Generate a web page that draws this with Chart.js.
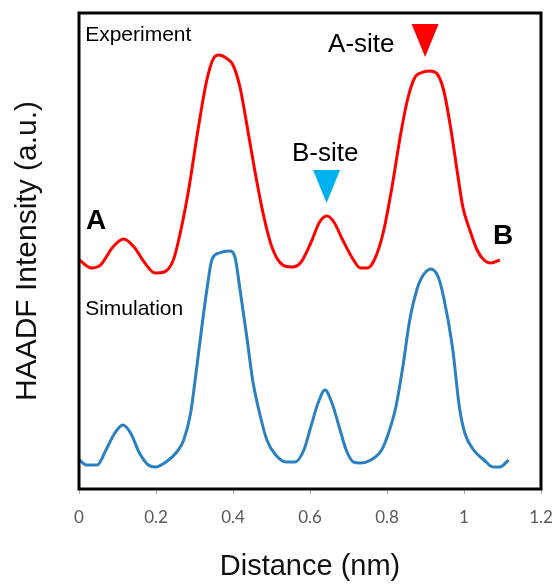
<!DOCTYPE html>
<html>
<head>
<meta charset="utf-8">
<script src="https://cdn.jsdelivr.net/npm/chart.js@4"></script>
<style>
  html, body { margin: 0; padding: 0; background: #fff; }
  #wrap { width: 556px; height: 584px; }
</style>
</head>
<body>
<div id="wrap"><canvas id="profile" width="556" height="584"></canvas></div>
<script>
// distance (nm) / intensity (a.u.)
const expX = [0.001, 0.033, 0.056, 0.088, 0.116, 0.143, 0.171, 0.198, 0.221, 0.245,
  0.263, 0.286, 0.309, 0.332, 0.350, 0.364, 0.382, 0.400, 0.418, 0.437,
  0.455, 0.478, 0.501, 0.529, 0.552, 0.575, 0.602, 0.625, 0.644, 0.662,
  0.685, 0.713, 0.731, 0.749, 0.767, 0.790, 0.813, 0.836, 0.855, 0.873,
  0.887, 0.910, 0.928, 0.947, 0.965, 0.983, 0.997, 1.015, 1.034, 1.052,
  1.070, 1.093];
const expY = [229, 221, 224, 242, 250, 242, 226, 216, 217, 229,
  256, 302, 359, 409, 431, 434, 431, 424, 402, 362,
  322, 276, 242, 224, 222, 226, 246, 267, 273, 267,
  249, 229, 221, 221, 229, 256, 302, 356, 392, 412,
  416, 418, 416, 399, 362, 316, 282, 259, 239, 229,
  226, 229];

const simX = [0.001, 0.020, 0.047, 0.070, 0.093, 0.114, 0.134, 0.157, 0.180, 0.199,
  0.226, 0.254, 0.272, 0.290, 0.304, 0.318, 0.332, 0.345, 0.364, 0.391,
  0.405, 0.418, 0.437, 0.451, 0.469, 0.488, 0.511, 0.538, 0.561, 0.584,
  0.602, 0.621, 0.639, 0.657, 0.676, 0.694, 0.713, 0.731, 0.758, 0.786,
  0.804, 0.823, 0.841, 0.859, 0.878, 0.891, 0.914, 0.933, 0.947, 0.970,
  0.988, 1.002, 1.025, 1.052, 1.075, 1.093, 1.116];
const simY = [29, 24, 24, 39, 56, 64, 56, 36, 24, 22,
  27, 37, 49, 76, 116, 159, 199, 229, 236, 238,
  232, 200, 149, 109, 76, 49, 34, 27, 27, 39,
  62, 86, 99, 86, 62, 39, 27, 26, 29, 39,
  56, 82, 122, 169, 200, 212, 220, 212, 192, 142,
  82, 56, 39, 29, 22, 22, 29];

const xTicks = [0, 0.2, 0.4, 0.6, 0.8, 1, 1.2];

// text labels placed in data coordinates (x nm, y = cap centre)
const noteText = ["Experiment", "Simulation", "A", "B", "A-site", "B-site"];
const noteX = [0.016, 0.016, 0.018, 1.075, 0.647, 0.553];
const noteY = [456, 182, 270, 255, 446, 337];

// site markers (downward triangles): centre x, top y, tip y
const markX = [0.899, 0.643];
const markTop = [465, 319];
const markTip = [432, 286];

const toPts = (xs, ys) => xs.map((x, i) => ({ x: x, y: ys[i] }));

/* frame round the plot area */
const frameBox = {
  id: "frameBox",
  afterDatasetsDraw(chart) {
    const { ctx, chartArea: a } = chart;
    ctx.save();
    ctx.strokeStyle = "#000";
    ctx.lineWidth = 3;
    ctx.strokeRect(a.left, a.top, a.right - a.left, a.bottom - a.top);
    ctx.restore();
  }
};

/* labels and site triangles */
const notes = {
  id: "notes",
  afterDraw(chart) {
    const { ctx } = chart;
    const xs = chart.scales.x, ys = chart.scales.y;
    const fonts = ["21px", "21px", "bold 28px", "bold 28px", "26px", "26px"];
    const sizes = [21, 21, 28, 28, 26, 26];
    ctx.save();
    ctx.fillStyle = "#000";
    ctx.textAlign = "left";
    ctx.textBaseline = "alphabetic";
    noteText.forEach((t, i) => {
      ctx.font = fonts[i] + ' "Liberation Sans", Arial, sans-serif';
      const px = xs.getPixelForValue(noteX[i]);
      const py = ys.getPixelForValue(noteY[i]) + sizes[i] * 0.358;
      ctx.fillText(t, px, py);
    });
    const colors = ["#ff0000", "#00b0f0"];
    markX.forEach((m, i) => {
      const cx = xs.getPixelForValue(m);
      const top = ys.getPixelForValue(markTop[i]);
      const tip = ys.getPixelForValue(markTip[i]);
      ctx.fillStyle = colors[i];
      ctx.beginPath();
      ctx.moveTo(cx - 13.5, top);
      ctx.lineTo(cx + 13.5, top);
      ctx.lineTo(cx, tip);
      ctx.closePath();
      ctx.fill();
    });
    ctx.restore();
  }
};

new Chart(document.getElementById("profile"), {
  type: "line",
  data: {
    datasets: [
      {
        label: "Experiment",
        data: toPts(expX, expY),
        borderColor: "#ff0000",
        borderWidth: 3,
        pointRadius: 0,
        cubicInterpolationMode: "monotone"
      },
      {
        label: "Simulation",
        data: toPts(simX, simY),
        borderColor: "#2a80c0",
        borderWidth: 3,
        pointRadius: 0,
        cubicInterpolationMode: "monotone"
      }
    ]
  },
  options: {
    responsive: false,
    animation: false,
    layout: { padding: { top: 13, right: 15, left: 0, bottom: 0 } },
    plugins: {
      legend: { display: false },
      tooltip: { enabled: false }
    },
    scales: {
      x: {
        type: "linear",
        min: 0,
        max: 1.2,
        afterBuildTicks(s) { s.ticks = xTicks.map(v => ({ value: v })); },
        afterFit(s) {
          s.height = 95;
          s.paddingLeft = 0;
          s.paddingRight = 0;
        },
        grid: { drawOnChartArea: false, drawTicks: true, tickLength: 5, color: "#aaa" },
        border: { display: false },
        ticks: {
          padding: 13,
          color: "#595959",
          font: { family: "Lato", size: 17 },
          maxRotation: 0,
          callback: v => String(Number(v.toFixed(1)))
        },
        title: {
          display: true,
          text: "Distance (nm)",
          color: "#111",
          font: { family: "Liberation Sans", size: 29 },
          padding: { top: 0, bottom: 0 }
        }
      },
      y: {
        min: 0,
        max: 476,
        afterFit(s) { s.width = 79; },
        grid: { display: false },
        border: { display: false },
        ticks: { display: false },
        title: {
          display: true,
          text: "HAADF Intensity (a.u.)",
          color: "#111",
          font: { family: "Liberation Sans", size: 30 },
          padding: { top: 10, bottom: 0 }
        }
      }
    }
  },
  plugins: [frameBox, notes]
});
</script>
</body>
</html>
